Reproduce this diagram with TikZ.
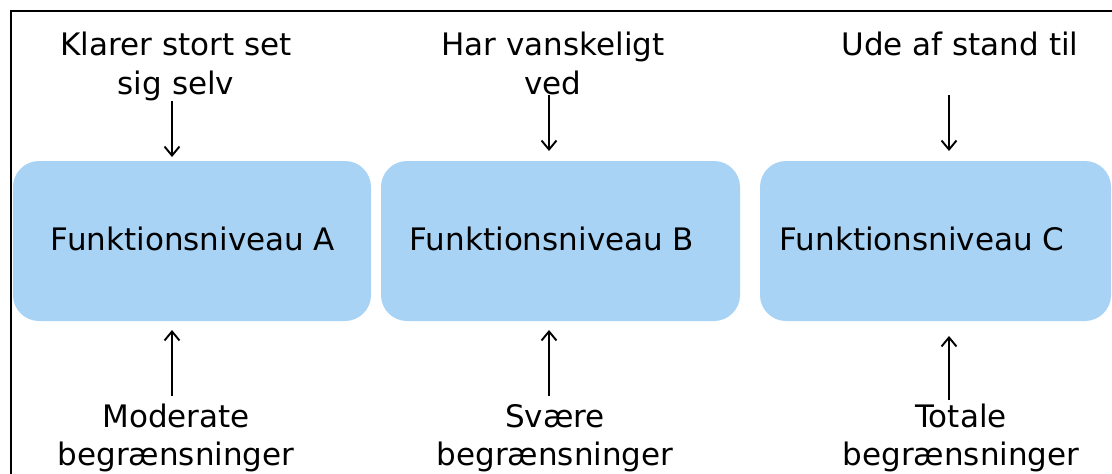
\documentclass[tikz,border=0pt]{standalone}
\usepackage{fontspec}
\setmainfont{DejaVu Sans}
\usetikzlibrary{arrows.meta}
\definecolor{boxblue}{RGB}{168,211,245}
\begin{document}
\begin{tikzpicture}[x=1pt,y=-1pt,
  lvl/.style={fill=boxblue, draw=none, rounded corners=26pt},
  lbl/.style={font=\fontsize{31}{37}\selectfont, align=center, inner sep=0pt, text=black, anchor=base},
  toplbl/.style={lbl, font=\fontsize{31}{39}\selectfont},
  botlbl/.style={lbl, font=\fontsize{31}{38}\selectfont},
  arr/.style={-{Straight Barb[length=9pt,width=15pt]}, line width=1.9pt}]
\useasboundingbox (0,0) rectangle (1112,474);
\begin{scope}
\clip (0,0) rectangle (1112,474);
\draw[line width=2.2pt] (11,500) -- (11,11) -- (1130,11);
\end{scope}
\path[lvl] (13,161) rectangle (371,321);
\path[lvl] (381,161) rectangle (740,321);
\path[lvl] (760,161) rectangle (1111,321);
\node[lbl] (fa) at (193,250) {Funktionsniveau A};
\node[lbl] (fb) at (552,250) {Funktionsniveau B};
\node[lbl] (fc) at (922,250) {Funktionsniveau C};
\node[toplbl] (ta) at (176,94) {Klarer stort set\\sig selv};
\node[toplbl] (tb) at (553,94) {Har vanskeligt\\ved};
\node[toplbl] (tc) at (960,55) {Ude af stand til};
\node[botlbl] (ba) at (176,465) {Moderate\\begrænsninger};
\node[botlbl] (bb) at (555,465) {Svære\\begrænsninger};
\node[botlbl] (bc) at (961,465) {Totale\\begrænsninger};
\coordinate (ta1) at (172,101); \coordinate (ta2) at (172,157);
\coordinate (tb1) at (549,95); \coordinate (tb2) at (549,151);
\coordinate (tc1) at (949,95); \coordinate (tc2) at (949,151);
\coordinate (ba1) at (172,396); \coordinate (ba2) at (172,330);
\coordinate (bb1) at (549,396); \coordinate (bb2) at (549,330);
\coordinate (bc1) at (949,400); \coordinate (bc2) at (949,336);
\draw[arr] (ta1) -- (ta2);
\draw[arr] (tb1) -- (tb2);
\draw[arr] (tc1) -- (tc2);
\draw[arr] (ba1) -- (ba2);
\draw[arr] (bb1) -- (bb2);
\draw[arr] (bc1) -- (bc2);
\end{tikzpicture}
\end{document}
